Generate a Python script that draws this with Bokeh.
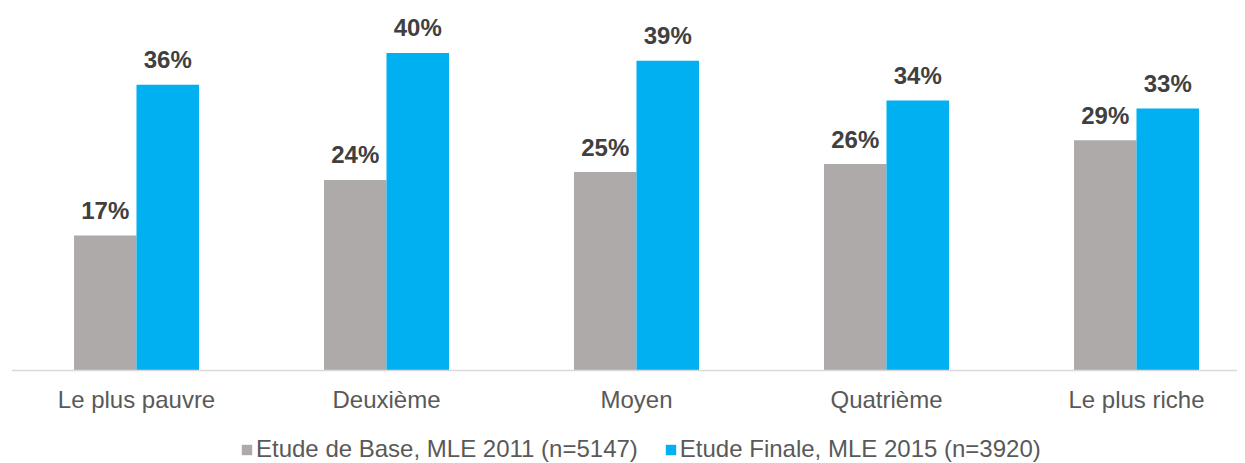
from bokeh.plotting import figure
from bokeh.models import Range1d, Legend, LegendItem, ColumnDataSource, Span
from bokeh.embed import file_html
from bokeh.resources import INLINE
from bokeh.core.properties import value
import numpy as np

categories = ["Le plus pauvre", "Deuxième", "Moyen", "Quatrième", "Le plus riche"]
base_2011 = [17, 24, 25, 26, 29]
finale_2015 = [36, 40, 39, 34, 33]
series_names = ["Etude de Base, MLE 2011 (n=5147)", "Etude Finale, MLE 2015 (n=3920)"]

GRAY = "#AEAAAA"
BLUE = "#00B0F0"
FONT = "Liberation Sans"

xs = np.arange(len(categories), dtype=float)
bw = 0.25
FW = 1226
FH = 463
PX_PER_UNIT = 7.94

src_a = ColumnDataSource(dict(x=xs - bw / 2, top=base_2011,
                              lab=[f"{v}%" for v in base_2011]))
src_b = ColumnDataSource(dict(x=xs + bw / 2, top=finale_2015,
                              lab=[f"{v}%" for v in finale_2015]))
src_c = ColumnDataSource(dict(x=xs, y=np.zeros(len(categories)), cat=categories))

p = figure(frame_width=FW, frame_height=FH, output_backend="svg", toolbar_location=None,
           x_range=Range1d(-0.5, -0.5 + FW / 250),
           y_range=Range1d(-93 / PX_PER_UNIT, 370 / PX_PER_UNIT),
           x_axis_location=None, y_axis_location=None,
           min_border_left=11, min_border_right=0, min_border_top=0, min_border_bottom=0)

r_a = p.vbar(x="x", top="top", width=bw, source=src_a, fill_color=GRAY, line_color=None)
r_b = p.vbar(x="x", top="top", width=bw, source=src_b, fill_color=BLUE, line_color=None)

for src in (src_a, src_b):
    p.text(x="x", y="top", text="lab", source=src, text_align="center",
           text_baseline="middle", y_offset=-25, text_font=value(FONT),
           text_font_size="24px", text_font_style="bold", text_color="#404040")

# category labels under the baseline
p.text(x="x", y="y", text="cat", source=src_c, text_align="center",
       text_baseline="middle", y_offset=29, text_font=value(FONT),
       text_font_size="24px", text_color="#595959")

p.add_layout(Span(location=0, dimension="width", line_color="#D9D9D9", line_width=1.5))

p.xgrid.visible = False
p.ygrid.visible = False
p.outline_line_color = None

legend = Legend(items=[LegendItem(label=series_names[0], renderers=[r_a]),
                       LegendItem(label=series_names[1], renderers=[r_b])],
                orientation="horizontal", location=(229, 0),
                glyph_width=13, glyph_height=13, label_standoff=3, spacing=26,
                label_text_font=FONT, label_text_font_size="24px",
                label_text_color="#595959", border_line_color=None,
                background_fill_alpha=0,
                padding=0, margin=0, label_height=20)
p.add_layout(legend, "center")

open("out.html", "w").write(file_html(p, INLINE))
